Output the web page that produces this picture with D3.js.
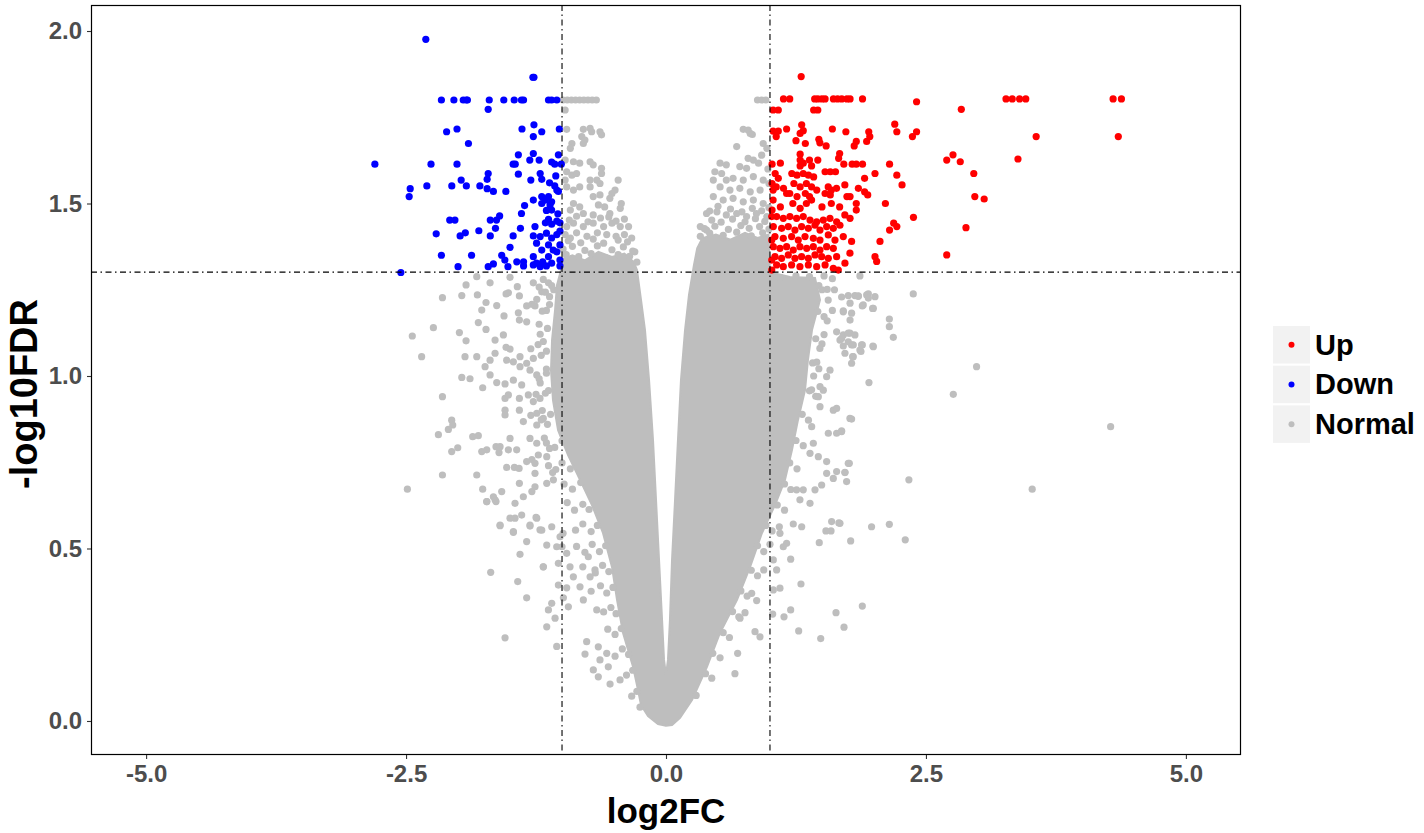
<!DOCTYPE html>
<html><head><meta charset="utf-8">
<script src="https://cdn.jsdelivr.net/npm/d3@7/dist/d3.min.js"></script>
<style>html,body{margin:0;padding:0;background:#fff;}svg{display:block;}</style>
</head><body>
<script>
// ---------------- DATA (log2FC, -log10FDR) ----------------
const categories = ["Up", "Down", "Normal"];
const categoryColors = ["#ff0000", "#0000ff", "#bebebe"];
const xTicks = [-5, -2.5, 0, 2.5, 5];
const yTicks = [0, 0.5, 1, 1.5, 2];
const fcCut = [-1, 1];
const fdrCut = 1.301;

// outline of the saturated (fully overlapping) part of the Normal cloud
const normalCoreOutline = [
[0.00,-0.014],[-0.077,-0.009],[-0.173,0.014],[-0.240,0.046],[-0.269,0.090],[-0.317,0.157],[-0.413,0.255],[-0.471,0.351],
[-0.519,0.446],[-0.606,0.545],[-0.712,0.626],[-0.827,0.699],[-0.942,0.771],[-1.038,0.843],[-1.087,0.930],[-1.106,1.017],
[-1.096,1.104],[-1.067,1.191],[-1.048,1.264],[-1.019,1.296],[-1.000,1.322],[-0.990,1.34],[-0.90,1.35],[-0.78,1.335],
[-0.65,1.36],[-0.52,1.345],[-0.40,1.355],[-0.31,1.33],[-0.279,1.307],[-0.240,1.220],[-0.202,1.133],[-0.163,0.988],
[-0.125,0.814],[-0.096,0.641],[-0.067,0.467],[-0.038,0.293],[-0.019,0.177],[0.000,0.133],[0.019,0.177],[0.038,0.293],
[0.058,0.467],[0.087,0.641],[0.115,0.814],[0.144,0.988],[0.183,1.133],[0.221,1.235],[0.269,1.322],[0.30,1.37],
[0.35,1.40],[0.48,1.41],[0.62,1.395],[0.76,1.415],[0.88,1.40],[0.985,1.41],[1.000,1.301],[1.192,1.287],
[1.433,1.284],[1.481,1.220],[1.404,1.133],[1.365,1.046],[1.337,0.959],[1.269,0.872],[1.212,0.786],[1.144,0.699],
[1.048,0.626],[0.923,0.545],[0.808,0.446],[0.683,0.351],[0.519,0.255],[0.394,0.157],[0.250,0.061],[0.135,0.009],[0.058,-0.012]
];

const normalPoints = [
[-0.99,1.80],[-0.95,1.80],[-0.91,1.80],[-0.87,1.80],[-0.83,1.80],[-0.79,1.80],[-0.75,1.80],[-0.71,1.80],[-0.67,1.80],[0.88,1.80],[0.92,1.80],[0.96,1.80],
[-0.97,1.771],[-0.955,1.715],[-0.795,1.715],[-0.73,1.718],[-0.715,1.708],[-0.635,1.708],[-0.62,1.699],[-0.81,1.694],[-0.78,1.684],[-0.795,1.674],[-0.905,1.674],[-0.92,1.66],
[-0.97,1.626],[-0.89,1.621],[-0.83,1.617],[-0.73,1.621],[-0.70,1.612],[-0.62,1.602],[-0.62,1.587],[-0.955,1.592],[-0.905,1.582],[-0.86,1.587],[-0.46,1.568],[-0.73,1.568],
[-0.665,1.568],[-0.635,1.558],[-0.73,1.548],[-0.97,1.568],[-0.955,1.548],[-0.89,1.539],[-0.83,1.548],[-0.52,1.529],[-0.49,1.539],[-0.54,1.515],[-0.70,1.52],[-0.635,1.525],
[-0.89,1.50],[-0.83,1.49],[-0.92,1.481],[-0.65,1.496],[-0.59,1.49],[-0.43,1.50],[-0.44,1.486],[-0.795,1.471],[-0.70,1.467],[-0.54,1.471],[-0.36,1.433],[-0.44,1.433],
[-0.52,1.443],[-0.60,1.433],[-0.70,1.443],[-0.795,1.433],[-0.89,1.443],[-0.955,1.433],[-0.97,1.41],[-0.92,1.40],[-0.86,1.415],[-0.76,1.405],[-0.66,1.415],[-0.57,1.41],
[-0.48,1.405],[-0.40,1.41],[-0.33,1.40],[-0.30,1.36],[-0.28,1.33],
[-0.96,1.352],[-0.84,1.346],[-0.72,1.355],[-0.58,1.343],[-0.46,1.352],[-0.35,1.347],[-0.99,1.368],[-0.90,1.376],[-0.78,1.364],[-0.66,1.377],[-0.52,1.366],[-0.41,1.374],[-0.32,1.362],
[-0.94,1.392],[-0.82,1.386],[-0.70,1.397],[-0.60,1.385],[-0.46,1.394],[-0.37,1.389],[-0.93,1.452],[-0.75,1.447],[-0.63,1.458],[-0.48,1.449],[-0.40,1.455],[-0.86,1.463],[-0.55,1.461],
[0.743,1.715],[0.79,1.713],[0.81,1.703],[0.68,1.665],[0.935,1.674],[0.97,1.66],[0.79,1.631],[0.84,1.626],[0.89,1.617],[0.52,1.617],[0.58,1.612],[0.71,1.607],[0.775,1.602],
[0.47,1.592],[0.535,1.587],[0.455,1.568],[0.58,1.568],[0.645,1.573],[0.743,1.568],[0.84,1.578],[0.935,1.568],[0.99,1.558],[0.52,1.548],[0.615,1.539],[0.71,1.544],[0.81,1.534],
[0.905,1.539],[0.455,1.52],[0.55,1.51],[0.645,1.515],[0.743,1.505],[0.84,1.51],[0.935,1.50],[0.39,1.471],[0.49,1.476],[0.58,1.467],[0.68,1.471],[0.775,1.462],[0.87,1.471],
[0.97,1.462],[0.33,1.433],[0.39,1.423],[0.83,1.70],[0.92,1.64],[0.98,1.60],
[0.33,1.405],[0.42,1.414],[0.55,1.408],[0.68,1.417],[0.82,1.406],[0.93,1.415],[0.37,1.427],[0.47,1.434],[0.60,1.425],[0.72,1.436],[0.80,1.428],[0.90,1.433],[0.99,1.426],
[0.44,1.452],[0.53,1.446],[0.64,1.455],[0.76,1.447],[0.86,1.456],[0.95,1.448],[0.42,1.478],[0.62,1.484],[0.73,1.476],[0.83,1.486],[0.92,1.479],[0.50,1.492],[0.99,1.488],
[1.10,1.285],[1.25,1.29],[1.38,1.288],[1.52,1.29],[1.60,1.282],[1.865,1.29],
[-2.15,1.227],[-1.964,1.233],[-1.923,1.264],[-1.814,1.235],[-1.82,1.288],[-1.692,1.27],[-1.50,1.286],[-1.43,1.259],[-1.516,1.241],[-1.538,1.238],[-1.731,1.213],[-1.628,1.204],
[-1.772,1.191],[-1.41,1.232],[-1.42,1.183],[-1.34,1.203],[-1.29,1.208],[-1.276,1.27],[-1.18,1.28],[-1.195,1.244],[-1.243,1.222],[-1.558,1.174],[-1.41,1.162],[-1.34,1.157],
[-1.805,1.155],[-1.731,1.135],[-2.237,1.14],[-2.44,1.116],[-1.987,1.126],[-1.923,1.102],[-1.644,1.104],[-1.564,1.119],[-1.538,1.083],[-1.50,1.078],[-2.35,1.056],[-1.933,1.056],
[-1.82,1.056],[-1.692,1.046],[-1.644,1.066],[-1.74,1.027],[-1.532,1.046],[-1.468,1.041],[-1.404,1.056],[-1.404,1.027],[-1.34,1.037],[-1.276,1.051],[-1.308,1.017],[-1.243,1.003],
[-1.964,0.996],[-1.885,0.992],[-1.692,1.003],[-1.628,0.981],[-1.548,0.977],[-1.468,0.988],[-1.388,0.974],[-1.763,0.966],[-2.15,0.94],[-1.548,0.935],[-1.516,0.945],[-1.41,0.935],
[-1.324,0.945],[-1.276,0.926],[-1.212,0.935],[-1.548,0.901],[-1.548,0.887],[-1.41,0.901],[-1.372,0.868],[-1.243,0.892],[-1.18,0.877],[-1.243,0.858],[-2.061,0.872],[-2.051,0.858],
[-2.093,0.845],[-2.189,0.83],[-1.859,0.824],[-1.805,0.827],[-1.50,0.819],[-1.308,0.819],[-1.243,0.805],[-1.635,0.795],[-1.596,0.795],[-1.606,0.778],[-1.724,0.786],[-1.772,0.781],
[-2.061,0.781],[-2.003,0.792],[-1.516,0.786],[-1.436,0.786],[-1.34,0.752],[-1.29,0.758],[-1.26,0.747],[-1.228,0.771],[-1.147,0.766],[-1.532,0.735],[-1.458,0.735],[-1.413,0.732],
[-1.26,0.718],[-2.15,0.713],[-1.82,0.713],[-2.487,0.672],[-1.763,0.672],[-1.724,0.636],[-1.644,0.641],[-1.66,0.65],[-1.58,0.665],[-1.452,0.631],[-1.372,0.65],[-1.29,0.665],
[-1.26,0.679],[-1.147,0.689],[-1.083,0.699],[-1.41,0.689],[-1.50,0.588],[-1.452,0.588],[-1.388,0.597],[-1.596,0.566],[-1.468,0.547],[-1.308,0.565],[-1.243,0.588],[-1.195,0.553],
[-1.099,0.563],[-1.34,0.52],[-1.147,0.51],[-1.051,0.505],[-1.404,0.483],[-1.18,0.447],[-1.019,0.534],[-1.035,0.457],[-1.686,0.431],[-1.426,0.404],[-1.34,0.357],[-1.099,0.341],
[-1.131,0.322],[-1.067,0.298],[-1.147,0.273],[-1.548,0.241],[-1.051,0.216],[-1.035,0.394],[-0.955,0.386],[-0.987,0.357],
[-1.22,1.15],[-1.18,1.10],[-1.20,1.06],[-1.15,1.02],[-1.21,0.98],[-1.16,0.95],[-1.19,0.90],[-1.14,0.86],[-1.17,0.82],[-1.12,0.79],[-1.13,0.74],[-1.09,0.72],[-1.15,1.19],[-1.12,1.23],[-1.13,1.27],[-1.08,1.25],
[-1.724,0.636],[-1.635,0.636],[-1.596,0.568],[-1.468,0.549],[-1.308,0.568],[-1.25,0.59],[-1.212,0.554],[-1.18,0.447],
[-0.99,0.544],[-1.00,0.505],[-0.955,0.486],[-0.923,0.447],[-0.891,0.418],[-0.827,0.389],[-0.939,0.331],[-0.795,0.351],[-0.763,0.23],[-0.779,0.194],[-0.651,0.215],[-0.57,0.196],
[-0.635,0.177],[-0.699,0.148],[-0.651,0.128],[-0.538,0.107],[-0.442,0.119],[-0.555,0.157],[-0.666,0.322],[-0.73,0.418],[-0.683,0.438],[-0.747,0.476],
[-1.10,1.262],[-1.16,1.243],[-1.22,1.258],[-1.12,1.207],[-1.19,1.188],[-1.26,1.203],[-1.14,1.138],[-1.21,1.121],[-1.15,1.072],[-1.23,1.091],[-1.30,1.079],[-1.15,1.008],[-1.22,0.992],
[-1.13,0.958],[-1.25,0.947],[-1.11,0.889],[-1.20,0.873],[-1.30,0.886],[-1.00,0.812],[-1.07,0.793],[-1.15,0.806],[-0.92,0.731],[-1.00,0.748],[-1.06,0.729],[-0.82,0.691],[-0.90,0.672],
[-0.98,0.687],[-0.74,0.613],[-0.80,0.628],[-0.88,0.611],[-0.95,0.633],[-0.66,0.567],[-0.72,0.549],[-0.80,0.571],[-0.87,0.553],[-0.58,0.508],[-0.64,0.491],[-0.71,0.512],[-0.78,0.489],
[-0.86,0.506],[-0.55,0.433],[-0.61,0.451],[-0.68,0.429],[-0.80,0.447],[-0.51,0.387],[-0.57,0.371],[-0.63,0.392],[-0.72,0.376],[-0.48,0.311],[-0.53,0.329],[-0.60,0.316],[-0.43,0.268],
[-0.49,0.251],[-0.56,0.266],[-0.36,0.193],[-0.42,0.209],[-0.49,0.188],[-0.32,0.147],[-0.38,0.133],[-0.28,0.086],[-0.33,0.072],[-0.25,0.04],
[1.224,0.571],[1.305,0.563],[1.593,0.578],[1.663,0.574],[1.538,0.551],[1.587,0.551],[1.474,0.517],[1.199,0.469],[1.298,0.397],[1.026,0.31],[1.135,0.302],[1.199,0.322],
[1.635,0.314],[1.276,0.261],[1.488,0.239],[0.663,0.137],[0.689,0.196],[0.872,0.349],[0.824,0.37],[0.712,0.298],[0.856,0.259],[0.904,0.244],[1.032,0.38],[1.064,0.438],
[1.096,0.385],[1.032,0.467],[1.16,0.515],[1.128,0.505],[1.096,0.544],
[1.47,1.262],[1.55,1.251],[1.46,1.187],[1.52,1.172],[1.44,1.108],[1.50,1.093],[1.41,1.038],[1.47,1.021],[1.38,0.957],[1.44,0.941],[1.31,0.889],[1.37,0.872],[1.25,0.813],[1.32,0.798],
[1.19,0.748],[1.26,0.731],[1.14,0.687],[1.20,0.671],[1.07,0.626],[1.14,0.611],[0.96,0.567],[1.02,0.551],[1.09,0.563],[0.88,0.508],[0.94,0.491],[1.00,0.512],[0.82,0.437],[0.88,0.421],
[0.94,0.438],[0.72,0.377],[0.78,0.362],[0.64,0.317],[0.70,0.302],[0.76,0.314],[0.55,0.256],[0.61,0.242],[0.45,0.196],[0.52,0.183],[0.38,0.137],[0.44,0.124],[0.29,0.074],
[1.93,1.235],[2.01,1.23],[1.85,1.232],[1.77,1.211],[1.705,1.186],[1.77,1.162],[1.785,1.182],[1.897,1.206],[1.994,1.196],[1.641,1.128],[1.705,1.119],[1.769,1.124],
[1.817,1.119],[1.673,1.104],[1.785,1.09],[1.865,1.075],[1.881,1.09],[1.994,1.085],[1.721,1.066],[1.801,1.056],[1.785,1.037],[1.577,1.017],[1.545,0.998],[1.481,0.969],
[1.513,0.959],[1.465,0.94],[1.481,0.911],[1.609,0.901],[1.641,0.906],[1.769,0.877],[1.561,0.834],[1.641,0.834],[1.689,0.839],[1.401,0.853],[1.417,0.805],[1.465,0.766],
[1.545,0.752],[1.385,0.776],[1.753,0.747],[1.545,0.718],[1.641,0.723],[1.721,0.72],[1.737,0.694],[1.609,0.703],[1.497,0.684],[1.433,0.67],[1.256,0.67],[1.32,0.67],
[1.288,0.641],[1.385,0.631],[1.50,1.25],[1.56,1.22],[1.60,1.19],[1.55,1.16],[1.62,1.25],[1.52,1.12],[1.48,1.08],[1.45,1.04],[1.42,1.00],[1.40,0.96],
[2.378,1.238],[1.753,1.233],[1.817,1.233],[1.849,1.231],[1.946,1.238],[1.946,1.226],[1.689,1.229],[1.888,1.203],[1.987,1.196],[1.705,1.189],[2.148,1.165],[2.148,1.143],
[2.186,1.112],[1.753,1.124],[1.689,1.109],[1.753,1.099],[1.801,1.09],[1.705,1.087],[1.888,1.09],[1.875,1.071],[1.99,1.087],[1.795,1.056],[2.987,1.027],[1.952,0.981],
[2.763,0.947],[4.276,0.853],[1.785,0.875],[1.689,0.841],[1.763,0.747],[1.721,0.721],[2.336,0.699],[3.522,0.672],[1.673,0.573],[1.977,0.563],[2.148,0.57],[1.776,0.522],
[2.301,0.525],[1.888,0.333],[1.712,0.272]
];

const downPoints = [
[-2.31,1.976],[-1.28,1.866],[-1.27,1.866],
[-2.16,1.80],[-2.04,1.80],[-1.95,1.80],[-1.92,1.80],[-1.91,1.80],[-1.70,1.80],[-1.56,1.80],[-1.46,1.80],[-1.39,1.80],[-1.37,1.80],[-1.13,1.80],[-1.10,1.80],[-1.05,1.80],
[-1.71,1.773],[-2.11,1.708],[-2.01,1.716],[-1.27,1.728],[-1.385,1.716],[-1.195,1.708],[-1.276,1.694],[-1.026,1.716],[-1.90,1.674],[-2.80,1.614],[-2.26,1.614],[-2.01,1.614],
[-1.47,1.614],[-1.45,1.614],[-1.42,1.641],[-1.276,1.645],[-1.31,1.626],[-1.22,1.626],[-1.10,1.62],[-1.07,1.614],[-1.035,1.641],[-1.007,1.614],[-1.71,1.587],[-1.72,1.57],
[-1.42,1.585],[-1.21,1.587],[-1.30,1.568],[-1.195,1.57],[-1.97,1.568],[-2.46,1.543],[-2.47,1.52],[-2.30,1.551],[-2.06,1.551],[-1.92,1.551],[-1.79,1.551],[-1.72,1.543],
[-1.66,1.535],[-1.54,1.535],[-1.07,1.551],[-1.05,1.539],[-1.035,1.535],[-1.195,1.52],[-1.16,1.51],[-1.13,1.52],[-1.10,1.505],[-1.115,1.496],[-1.276,1.51],[-1.195,1.50],
[-1.36,1.494],[-1.10,1.481],[-1.39,1.471],[-2.08,1.452],[-2.03,1.452],[-1.69,1.452],[-1.63,1.452],[-1.60,1.464],[-1.64,1.428],[-1.80,1.421],[-2.21,1.412],[-1.98,1.406],
[-1.93,1.415],[-1.69,1.406],[-1.47,1.406],[-1.40,1.428],[-1.26,1.433],[-1.16,1.444],[-1.13,1.454],[-1.10,1.44],[-1.05,1.449],[-1.02,1.444],[-1.276,1.406],[-1.21,1.404],
[-1.15,1.414],[-1.10,1.40],[-1.05,1.41],[-1.245,1.385],[-1.13,1.38],[-1.085,1.365],[-1.195,1.365],[-1.50,1.373],[-2.16,1.35],[-1.87,1.35],[-1.58,1.35],[-1.55,1.336],
[-2.00,1.317],[-1.71,1.317],[-1.66,1.325],[-1.52,1.317],[-1.435,1.331],[-1.37,1.331],[-1.37,1.319],[-1.276,1.346],[-1.245,1.327],[-1.186,1.331],[-1.13,1.346],[-1.10,1.327],
[-1.02,1.336],[-1.02,1.319],[-1.276,1.322],[-1.21,1.317],[-1.15,1.319],[-2.55,1.30],[-1.02,1.38],[-1.02,1.42],[-1.05,1.36],[-1.04,1.47],[-1.15,1.48],[-1.06,1.58],[-1.12,1.56]
];

const upPoints = [
[1.30,1.868],[1.13,1.803],[1.19,1.803],[1.43,1.803],[1.46,1.803],[1.50,1.803],[1.53,1.803],[1.61,1.803],[1.65,1.803],[1.69,1.803],[1.74,1.803],[1.77,1.803],[1.89,1.803],
[2.41,1.795],[1.03,1.771],[1.08,1.771],[1.42,1.771],[1.46,1.771],[1.03,1.71],[1.08,1.71],[1.06,1.694],[1.16,1.716],[1.305,1.728],[1.32,1.711],[1.29,1.703],[1.25,1.682],
[1.34,1.674],[1.47,1.686],[1.48,1.676],[1.54,1.667],[1.60,1.716],[1.73,1.708],[1.83,1.68],[1.81,1.667],[1.95,1.708],[1.96,1.694],[1.93,1.68],[2.20,1.73],[2.22,1.708],
[2.41,1.708],[2.37,1.694],[2.70,1.626],[1.29,1.643],[1.29,1.626],[1.32,1.617],[1.38,1.626],[1.40,1.609],[1.29,1.609],[1.46,1.626],[1.67,1.645],[1.66,1.631],[1.71,1.614],
[1.79,1.614],[1.83,1.614],[1.89,1.614],[2.15,1.614],[1.02,1.614],[1.10,1.617],[1.05,1.587],[1.08,1.573],[1.21,1.587],[1.26,1.582],[1.32,1.587],[1.37,1.582],[1.42,1.577],
[1.23,1.558],[1.29,1.548],[1.35,1.558],[1.40,1.548],[1.19,1.529],[1.26,1.52],[1.34,1.529],[1.38,1.52],[1.45,1.539],[1.53,1.592],[1.58,1.592],[1.63,1.592],[1.56,1.548],
[1.59,1.539],[1.64,1.544],[1.72,1.554],[1.53,1.529],[1.58,1.525],[1.74,1.52],[1.77,1.52],[1.85,1.544],[1.91,1.534],[1.94,1.525],[1.91,1.573],[2.01,1.587],[2.22,1.582],
[2.27,1.554],[1.02,1.558],[1.03,1.539],[1.06,1.548],[1.13,1.544],[1.16,1.529],[1.03,1.51],[1.10,1.49],[1.02,1.481],[1.22,1.50],[1.29,1.486],[1.35,1.50],[1.40,1.51],
[1.50,1.49],[1.59,1.50],[1.67,1.49],[1.72,1.467],[1.77,1.457],[1.83,1.50],[1.83,1.481],[2.11,1.50],[2.38,1.46],[2.19,1.443],[2.22,1.433],[2.15,1.423],[2.70,1.351],
[1.064,1.462],[1.128,1.457],[1.192,1.462],[1.256,1.457],[1.32,1.462],[1.385,1.452],[1.449,1.447],[1.513,1.452],[1.577,1.457],[1.641,1.447],[1.032,1.433],[1.112,1.428],
[1.176,1.433],[1.24,1.423],[1.304,1.433],[1.369,1.428],[1.433,1.437],[1.481,1.423],[1.545,1.433],[1.609,1.428],[1.673,1.437],[1.048,1.404],[1.128,1.399],[1.208,1.404],
[1.272,1.394],[1.337,1.404],[1.417,1.399],[1.481,1.394],[1.561,1.409],[1.625,1.394],[1.705,1.404],[1.032,1.375],[1.096,1.37],[1.16,1.375],[1.224,1.365],[1.288,1.375],
[1.353,1.37],[1.417,1.375],[1.481,1.365],[1.545,1.375],[1.609,1.37],[1.048,1.346],[1.112,1.341],[1.176,1.351],[1.24,1.341],[1.304,1.346],[1.369,1.341],[1.433,1.351],
[1.497,1.346],[1.561,1.341],[1.641,1.346],[1.769,1.356],[1.064,1.322],[1.128,1.317],[1.208,1.322],[1.288,1.317],[1.369,1.322],[1.449,1.317],[1.53,1.322],[1.609,1.312],
[1.721,1.327],[1.657,1.307],[1.785,1.39],[2.058,1.39],[2.01,1.346],[2.026,1.332],
[2.84,1.773],[3.27,1.803],[3.33,1.803],[3.40,1.803],[3.46,1.803],[4.30,1.803],[4.38,1.803],[3.56,1.694],[4.35,1.694],[2.76,1.641],[2.83,1.621],[3.385,1.629],[2.96,1.587],
[2.97,1.52],[3.06,1.513],[2.885,1.43],[1.017,1.462],[1.017,1.394],[1.017,1.336],[1.017,1.307]
];

// ---------------- DRAWING ----------------
const W = 1424, H = 833;
const panel = {left: 91, right: 1241, top: 5, bottom: 755};
const FONT = "'Liberation Sans', Arial, sans-serif";

const x = d3.scaleLinear().domain([-5.53, 5.53]).range([panel.left, panel.right]);
const y = d3.scaleLinear().domain([-0.0986, 2.0754]).range([panel.bottom, panel.top]);
const color = d3.scaleOrdinal().domain(categories).range(categoryColors);

const svg = d3.select("body").append("svg").attr("width", W).attr("height", H)
  .style("font-family", FONT);
svg.append("rect").attr("width", W).attr("height", H).attr("fill", "#fff");

svg.append("clipPath").attr("id", "pclip").append("rect")
  .attr("x", panel.left).attr("y", panel.top)
  .attr("width", panel.right - panel.left).attr("height", panel.bottom - panel.top);

const plot = svg.append("g").attr("clip-path", "url(#pclip)");
const R = 3.6;

plot.append("path").datum(normalCoreOutline)
  .attr("d", d3.line().x(d => x(d[0])).y(d => y(d[1])).curve(d3.curveLinearClosed))
  .attr("fill", color("Normal")).attr("stroke", color("Normal")).attr("stroke-width", 2);

function drawPoints(data, cat) {
  plot.append("g").selectAll("circle").data(data).join("circle")
    .attr("cx", d => x(d[0])).attr("cy", d => y(d[1])).attr("r", R)
    .attr("fill", color(cat));
}
drawPoints(normalPoints, "Normal");
drawPoints(downPoints, "Down");
drawPoints(upPoints, "Up");

// threshold lines
const dash = "6 3.5 1.5 3.5";
plot.selectAll(".vl").data(fcCut).join("line")
  .attr("x1", d => x(d)).attr("x2", d => x(d))
  .attr("y1", panel.top).attr("y2", panel.bottom)
  .attr("stroke", "#000").attr("stroke-width", 1.1).attr("stroke-dasharray", dash);
plot.append("line")
  .attr("x1", panel.left).attr("x2", panel.right)
  .attr("y1", y(fdrCut)).attr("y2", y(fdrCut))
  .attr("stroke", "#000").attr("stroke-width", 1.1).attr("stroke-dasharray", dash);

// panel border
svg.append("rect").attr("x", panel.left + 0.5).attr("y", panel.top + 0.5)
  .attr("width", panel.right - panel.left - 1).attr("height", panel.bottom - panel.top - 1)
  .attr("fill", "none").attr("stroke", "#000").attr("stroke-width", 1.2);

// axes
const fmt = d => d.toFixed(1);
const xAxis = svg.append("g").attr("transform", `translate(0,${panel.bottom})`)
  .call(d3.axisBottom(x).tickValues(xTicks).tickFormat(fmt).tickSize(4).tickPadding(6));
const yAxis = svg.append("g").attr("transform", `translate(${panel.left},0)`)
  .call(d3.axisLeft(y).tickValues(yTicks).tickFormat(fmt).tickSize(4).tickPadding(5));
[xAxis, yAxis].forEach(a => {
  a.select(".domain").remove();
  a.selectAll(".tick line").attr("stroke", "#333").attr("stroke-width", 1.1);
  a.selectAll(".tick text").attr("fill", "#4d4d4d").style("font-size", "24px")
    .style("font-weight", "bold").style("font-family", FONT);
});

// axis titles
svg.append("text").attr("x", (panel.left + panel.right) / 2).attr("y", 823)
  .attr("text-anchor", "middle").style("font-size", "35px").style("font-weight", "bold")
  .attr("fill", "#000").text("log2FC");
svg.append("text").attr("transform", `translate(37,394) rotate(-90)`)
  .attr("text-anchor", "middle").style("font-size", "38px").style("font-weight", "bold")
  .attr("fill", "#000").text("-log10FDR");

// legend
const legend = svg.append("g");
const keyX = 1273, keyY0 = 326, keyStep = 39.7, keyW = 37, keyH = 37.5;
categories.forEach((c, i) => {
  const g = legend.append("g").attr("transform", `translate(${keyX},${keyY0 + i * keyStep})`);
  g.append("rect").attr("width", keyW).attr("height", keyH).attr("fill", "#f2f2f2");
  g.append("circle").attr("cx", keyW / 2).attr("cy", keyH / 2).attr("r", 3).attr("fill", color(c));
  g.append("text").attr("x", 42).attr("y", keyH / 2 + 10).style("font-size", "29px")
    .style("font-weight", "bold").attr("fill", "#000").text(c);
});
</script>
</body></html>
